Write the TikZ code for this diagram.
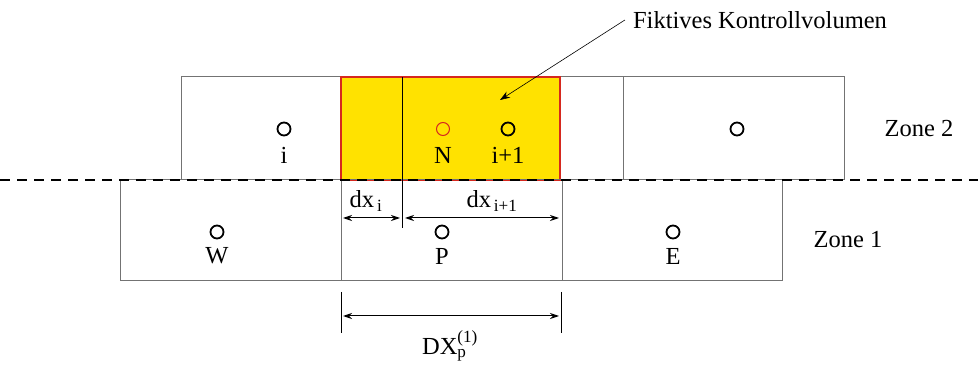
\documentclass[tikz,border=0pt]{standalone}
\usepackage{amsmath}
\usepackage{fontspec}
\setmainfont{Liberation Serif}
\usetikzlibrary{arrows.meta}
\definecolor{fillyellow}{RGB}{255,226,0}
\definecolor{cellred}{RGB}{214,40,30}
\tikzset{
  cellbox/.style={draw=black!55,line width=1pt},
  pnt/.style={circle,draw,line width=1.8pt,minimum size=13pt,inner sep=0pt},
  lbl/.style={font=\fontsize{24.5}{29}\selectfont,inner sep=0pt},
  dim/.style={{Stealth[length=9pt,width=6pt]}-{Stealth[length=9pt,width=6pt]},line width=1pt}
}

\begin{document}
\begin{tikzpicture}[x=1pt,y=-1pt]
  \useasboundingbox (0,0) rectangle (978,366);
  % zone 2
  \draw[cellbox] (181,77) rectangle (341,180);
  \draw[cellbox] (560,77) rectangle (623,180);
  \draw[cellbox] (623,77) rectangle (844,180);
  \draw[fill=fillyellow,draw=cellred,line width=1.2pt] (341,77) rectangle (560,180);
  % zone 1
  \draw[cellbox] (120,180) rectangle (341,281);
  \draw[cellbox] (341,180) rectangle (562,281);
  \draw[cellbox] (562,180) rectangle (782,281);
  \draw[line width=1.8pt,dash pattern=on 10pt off 7pt] (0,180) -- (978,180);
  \draw[line width=1pt] (402,77) -- (402,228);

  \node[pnt] (pi) at (284,129) {};
  \node[pnt,draw=cellred,line width=1pt] (pn) at (443,129) {};
  \node[pnt] (pip) at (508,129) {};
  \node[pnt] (pr) at (737,129) {};
  \node[pnt] (pw) at (217,232) {};
  \node[pnt] (pp) at (442,232) {};
  \node[pnt] (pe) at (673,232) {};
  \node[lbl] (li) at (284,155) {i};
  \node[lbl] (ln) at (443,155) {N};
  \node[lbl] (lip) at (508,155) {i+1};
  \node[lbl] (lw) at (217,256) {W};
  \node[lbl] (lp) at (442,256) {P};
  \node[lbl] (le) at (673,256) {E};
  \node[lbl] (zone2) at (919,129) {Zone 2};
  \node[lbl] (zone1) at (848,240) {Zone 1};

  % dimensions
  \coordinate (a1) at (343,218);
  \coordinate (a2) at (400,218);
  \coordinate (b1) at (405,218);
  \coordinate (b2) at (559,218);
  \draw[dim] (a1) -- (a2);
  \draw[dim] (b1) -- (b2);
  \node[lbl] (dxi) at (366,201) {dx$_{\,\text{i}}$};
  \node[lbl] (dxip) at (492,201) {dx$_{\,\text{i+1}}$};
  \draw[line width=1pt] (341,292) -- (341,333);
  \draw[line width=1pt] (561,292) -- (561,333);
  \coordinate (c1) at (343,316);
  \coordinate (c2) at (559,316);
  \draw[dim] (c1) -- (c2);
  \node[lbl] (dxp) at (450,346) {DX$_{\text{p}}^{\text{(1)}}$};

  \node[lbl] (fkv) at (760,20) {Fiktives Kontrollvolumen};
  \coordinate (fkvtip) at (500,100);
  \draw[-{Stealth[length=10pt,width=7pt]},line width=0.6pt] ([xshift=-8pt]fkv.west) -- (fkvtip);
\end{tikzpicture}
\end{document}
